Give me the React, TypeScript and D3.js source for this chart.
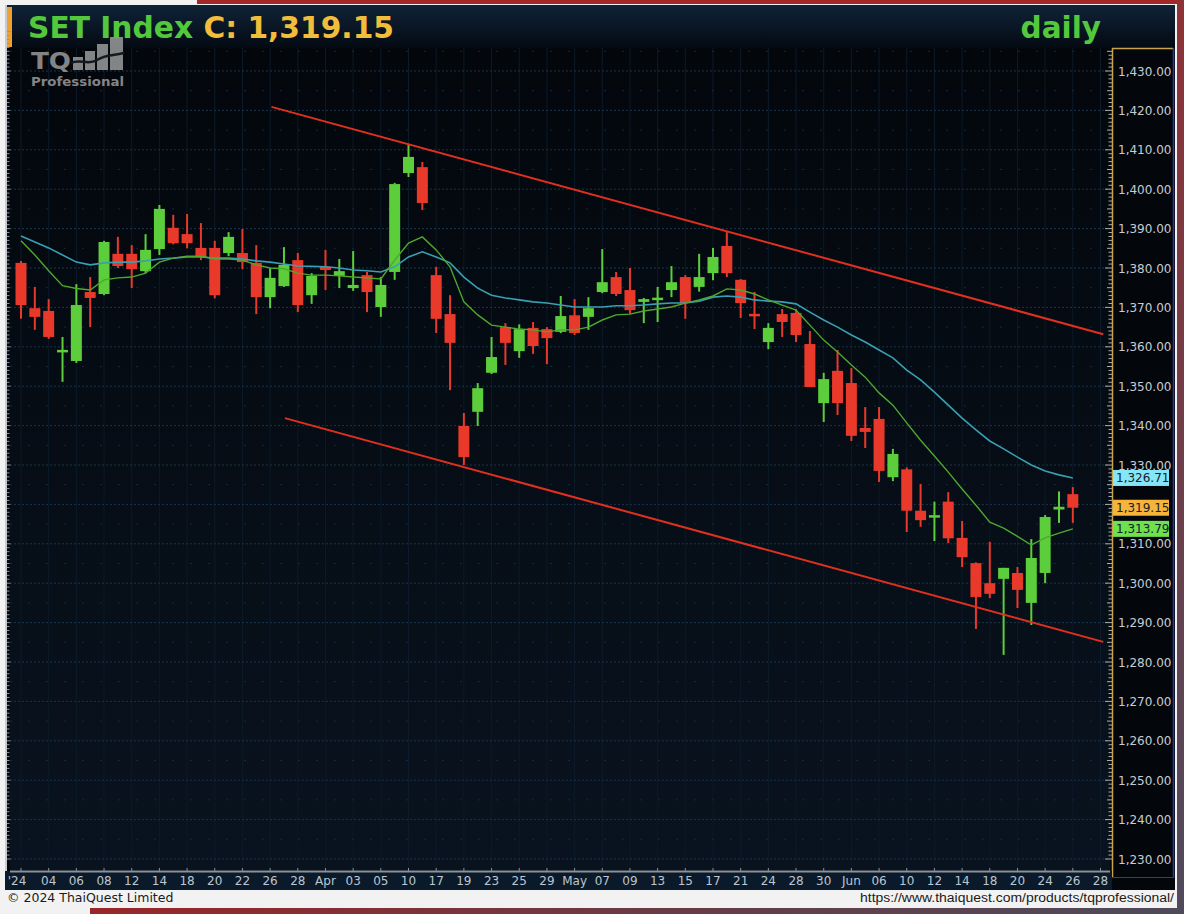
import React from 'react';
import * as d3 from 'd3';

const W = 1184;
const H = 914;

// trading days shown on the time axis (last two are future slots)
const tradingDates = [
  '2024-02-29','2024-03-01','2024-03-04','2024-03-05','2024-03-06','2024-03-07','2024-03-08','2024-03-11','2024-03-12','2024-03-13',
  '2024-03-14','2024-03-15','2024-03-18','2024-03-19','2024-03-20','2024-03-21','2024-03-22','2024-03-25','2024-03-26','2024-03-27',
  '2024-03-28','2024-03-29','2024-04-01','2024-04-02','2024-04-03','2024-04-04','2024-04-05','2024-04-09','2024-04-10','2024-04-11',
  '2024-04-17','2024-04-18','2024-04-19','2024-04-22','2024-04-23','2024-04-24','2024-04-25','2024-04-26','2024-04-29','2024-04-30',
  '2024-05-02','2024-05-03','2024-05-07','2024-05-08','2024-05-09','2024-05-10','2024-05-13','2024-05-14','2024-05-15','2024-05-16',
  '2024-05-17','2024-05-20','2024-05-21','2024-05-23','2024-05-24','2024-05-27','2024-05-28','2024-05-29','2024-05-30','2024-05-31',
  '2024-06-04','2024-06-05','2024-06-06','2024-06-07','2024-06-10','2024-06-11','2024-06-12','2024-06-13','2024-06-14','2024-06-17',
  '2024-06-18','2024-06-19','2024-06-20','2024-06-21','2024-06-24','2024-06-25','2024-06-26','2024-06-27','2024-06-28'
];

// axis labels, one every second trading day
const dateLabels = ["'24","04","06","08","12","14","18","20","22","26","28","Apr","03","05","10","17","19","23","25","29","May","07","09","13","15","17","21","24","28","30","Jun","06","10","12","14","18","20","24","26","28"];

const opens = [1381.3,1369.8,1369.1,1358.7,1356.4,1373.9,1373.4,1383.6,1383.6,1379.2,1384.8,1390.2,1388.6,1385.1,1385.1,1383.8,1383.8,1381.3,1372.6,1375.4,
  1382.0,1373.1,1380.3,1378.0,1374.9,1378.2,1370.1,1379.0,1404.1,1405.6,1378.2,1368.3,1339.9,1343.5,1353.4,1365.0,1358.9,1364.8,1364.5,1363.8,
  1368.0,1367.6,1373.9,1377.7,1374.4,1371.4,1371.9,1374.4,1377.7,1375.2,1378.7,1385.6,1377.0,1368.3,1361.2,1368.3,1368.6,1360.7,1345.7,1353.9,
  1350.8,1339.4,1341.7,1326.9,1328.9,1318.4,1316.7,1320.7,1311.5,1305.1,1300.0,1301.1,1302.6,1295.0,1302.6,1318.7,1322.6];
const highs = [1381.8,1375.2,1372.1,1362.5,1375.9,1377.7,1386.9,1387.9,1385.8,1388.6,1396.0,1393.5,1393.7,1391.4,1386.9,1389.1,1389.9,1385.8,1380.0,1385.3,
  1383.8,1378.7,1384.6,1382.3,1384.3,1379.0,1377.7,1401.6,1411.5,1406.9,1380.3,1373.1,1343.2,1350.8,1362.5,1366.0,1365.7,1366.3,1365.0,1372.9,
  1372.1,1372.6,1384.8,1379.0,1380.0,1372.4,1375.2,1380.5,1378.2,1383.6,1385.1,1389.1,1377.2,1373.9,1366.0,1369.6,1369.6,1364.0,1353.4,1359.2,
  1354.6,1344.7,1344.7,1334.1,1329.4,1325.2,1320.7,1323.1,1315.8,1305.3,1310.5,1303.9,1304.1,1311.2,1317.3,1323.3,1324.4];
const lows = [1367.1,1364.3,1362.0,1351.1,1355.9,1365.0,1373.1,1380.0,1374.9,1378.7,1383.3,1386.0,1385.0,1382.0,1372.3,1383.0,1379.7,1368.3,1369.8,1375.2,
  1368.8,1370.9,1374.4,1374.9,1374.2,1368.8,1367.6,1377.0,1403.1,1394.7,1363.5,1349.0,1330.0,1339.9,1353.1,1355.4,1357.2,1358.2,1355.6,1363.5,
  1363.0,1364.3,1373.6,1372.9,1368.3,1366.0,1366.3,1372.6,1367.1,1374.0,1376.9,1377.7,1367.3,1364.5,1359.4,1362.5,1361.2,1349.8,1340.9,1342.7,
  1336.1,1334.3,1325.7,1325.9,1313.0,1314.3,1310.7,1310.2,1304.1,1288.4,1296.2,1281.8,1293.7,1289.4,1300.0,1315.3,1315.3];
const closes = [1370.6,1367.6,1362.5,1359.1,1370.6,1372.4,1386.6,1380.5,1379.7,1384.6,1395.0,1386.3,1386.3,1382.8,1373.1,1387.9,1381.5,1372.6,1377.5,1380.8,
  1370.6,1378.0,1379.5,1379.2,1375.7,1373.9,1375.7,1401.3,1408.2,1396.5,1367.1,1361.0,1332.0,1349.5,1357.4,1361.0,1364.5,1360.2,1362.2,1367.8,
  1363.5,1369.8,1376.4,1373.4,1369.3,1372.1,1372.4,1376.4,1371.1,1377.7,1382.8,1378.7,1371.1,1367.8,1364.8,1366.3,1363.0,1349.8,1351.8,1345.7,
  1337.4,1338.4,1328.5,1332.8,1318.4,1316.0,1317.2,1311.4,1306.6,1296.5,1297.3,1303.9,1298.3,1306.4,1316.8,1319.4,1319.15];

// moving averages
const maFast = [1386.9,1383.3,1379.3,1375.5,1374.8,1374.4,1377.0,1377.5,1377.7,1378.7,1381.5,1382.5,1383.0,1383.0,1382.3,1382.3,1382.0,1380.8,1380.0,1379.8,
  1378.7,1378.2,1378.2,1378.0,1377.7,1377.5,1377.2,1382.0,1386.3,1387.9,1384.6,1380.3,1371.4,1368.1,1365.5,1365.0,1364.5,1364.3,1363.8,1364.3,
  1364.3,1365.0,1366.8,1368.1,1368.3,1369.1,1369.6,1370.1,1371.1,1371.9,1372.9,1374.7,1374.4,1373.4,1371.9,1370.6,1369.3,1365.5,1361.7,1358.7,
  1355.4,1352.3,1348.3,1345.2,1340.7,1336.3,1332.3,1328.2,1323.9,1319.8,1315.5,1314.0,1311.9,1309.7,1311.5,1312.7,1313.79];
const maSlow = [1388.1,1386.6,1385.1,1383.3,1381.5,1380.8,1381.3,1381.5,1381.5,1381.8,1382.3,1382.5,1382.8,1382.8,1382.5,1382.5,1382.3,1381.8,1381.5,1381.0,
  1380.5,1380.4,1380.3,1380.0,1379.5,1379.3,1379.0,1380.3,1382.8,1384.1,1382.8,1381.3,1377.7,1374.9,1373.1,1372.4,1371.9,1371.4,1371.1,1370.6,
  1370.1,1370.1,1370.1,1370.4,1370.4,1370.6,1370.9,1371.1,1371.1,1371.6,1372.6,1372.9,1372.6,1371.9,1371.6,1371.4,1370.9,1368.8,1366.8,1365.0,
  1363.0,1361.2,1359.2,1357.2,1354.1,1351.6,1348.5,1345.2,1341.9,1338.9,1336.1,1334.1,1332.0,1330.0,1328.5,1327.5,1326.71];

// trend channel end points: [bar position, price]
const upperChannel: [number, number][] = [[18.1, 1420.9], [78.2, 1363.2]];
const lowerChannel: [number, number][] = [[19.07, 1341.9], [78.2, 1285.1]];

const priceTicks = [1230,1240,1250,1260,1270,1280,1290,1300,1310,1320,1330,1340,1350,1360,1370,1380,1390,1400,1410,1420,1430];

const lastTags = [
  { value: 1326.71, label: '1,326.71', fill: '#84e6f6' },
  { value: 1319.15, label: '1,319.15', fill: '#f6b43a' },
  { value: 1313.79, label: '1,313.79', fill: '#6ee24c' },
];

const PLOT = { left: 10, right: 1110, top: 48, bottom: 870 };

export default function App() {
  const x = d3.scaleLinear().domain([0, tradingDates.length - 1]).range([21, 1100.5]);
  const y = d3.scaleLinear().domain([1230, 1430]).range([859, 71]);
  const fmt = d3.format(',.2f');

  const candles = opens.map((o, i) => ({ i, o, h: highs[i], l: lows[i], c: closes[i] }));
  const line = d3.line<number>().x((_, i) => x(i)).y((d) => y(d));
  const chLine = d3.line<[number, number]>().x((d) => x(d[0])).y((d) => y(d[1]));

  const minorTicks = d3.range(1230, 1441, 1);
  const halfLevels = d3.range(1235, 1440, 10);

  const green = '#5ccd3b';
  const red = '#e8392a';

  // axis labels hidden behind a value tag are clipped at the tag edge
  const tagBand = (v: number) => lastTags.some((t) => Math.abs(y(t.value) - y(v)) < 12);

  return (
    <div style={{ position: 'absolute', left: 0, top: 0, width: W, height: H }}>
      <svg width={W} height={H} style={{ display: 'block' }}>
        <defs>
          <linearGradient id="hdr" x1="0" y1="0" x2="0" y2="1">
            <stop offset="0" stopColor="#0f2338" />
            <stop offset="1" stopColor="#040a12" />
          </linearGradient>
          <linearGradient id="plotbg" x1="0" y1="0" x2="0" y2="1">
            <stop offset="0" stopColor="#03070c" />
            <stop offset="1" stopColor="#09131f" />
          </linearGradient>
          <linearGradient id="rightStrip" x1="0" y1="0" x2="0" y2="1">
            <stop offset="0" stopColor="#8e3236" />
            <stop offset="1" stopColor="#4e4a5c" />
          </linearGradient>
          <linearGradient id="bottomStrip" x1="0" y1="0" x2="1" y2="0">
            <stop offset="0" stopColor="#9a2628" />
            <stop offset="0.5" stopColor="#6a3a44" />
            <stop offset="1" stopColor="#4e4a5c" />
          </linearGradient>
          <clipPath id="plotClip">
            <rect x={PLOT.left} y={PLOT.top} width={PLOT.right - PLOT.left} height={PLOT.bottom - PLOT.top} />
          </clipPath>
        </defs>

        {/* outer frame */}
        <rect x={0} y={0} width={W} height={H} fill="#f2f2f2" />
        <rect x={197} y={0} width={W - 197} height={4} fill="#a3282a" />
        <rect x={1177} y={0} width={7} height={H} fill="url(#rightStrip)" />
        <rect x={90} y={908} width={W - 90} height={6} fill="url(#bottomStrip)" />

        {/* dark panel */}
        <rect x={5} y={5} width={1170} height={885} fill="#03070c" />
        <rect x={5} y={5} width={1170} height={43} fill="url(#hdr)" />
        <rect x={PLOT.left} y={PLOT.top} width={PLOT.right - PLOT.left} height={PLOT.bottom - PLOT.top} fill="url(#plotbg)" />

        {/* left ruler */}
        <rect x={5} y={5} width={2} height={885} fill="#c8ccd0" />
        <rect x={7} y={7} width={5} height={40} fill="#f0a030" />
        {minorTicks.map((v) => (
          <line key={'lt' + v} x1={7} x2={v % 10 === 0 ? 11 : 9.5} y1={y(v)} y2={y(v)} stroke="#8a96a4" strokeWidth={1} />
        ))}

        {/* grid */}
        <g clipPath="url(#plotClip)">
          {dateLabels.map((lab, k) => (
            <line key={'vg' + k} x1={x(2 * k)} x2={x(2 * k)} y1={PLOT.top} y2={PLOT.bottom} stroke="#0c1a29" strokeWidth={1} />
          ))}
          {priceTicks.map((v) => (
            <line key={'hg' + v} x1={PLOT.left} x2={PLOT.right} y1={y(v)} y2={y(v)} stroke="#1b344c" strokeWidth={1} strokeDasharray="2,2" />
          ))}
          {halfLevels.map((v) => (
            <line key={'hh' + v} x1={PLOT.left} x2={PLOT.right} y1={y(v)} y2={y(v)} stroke="#15293d" strokeWidth={1} strokeDasharray="2,16" />
          ))}
        </g>

        {/* logo */}
        <g opacity={0.8} fill="#a4a4a4">
          <text x={31} y={69} fontFamily="DejaVu Sans" fontWeight="bold" fontSize={23} textLength={40} lengthAdjust="spacingAndGlyphs">TQ</text>
          <rect x={73} y={57} width={10} height={13} />
          <rect x={85} y={51} width={10} height={19} />
          <rect x={97} y={44} width={11} height={26} />
          <rect x={110} y={37} width={13} height={33} />
          <path d="M71,63 C80,58 88,66 97,60 S112,56 124,53" stroke="#1a1e24" strokeWidth={2.5} fill="none" />
          <text x={31} y={86} fontFamily="DejaVu Sans" fontWeight="bold" fontSize={12.5} textLength={93} lengthAdjust="spacingAndGlyphs">Professional</text>
        </g>

        {/* candles */}
        <g clipPath="url(#plotClip)">
          {candles.map((d) => {
            const up = d.c >= d.o;
            const col = up ? green : red;
            const top = y(Math.max(d.o, d.c));
            const bot = y(Math.min(d.o, d.c));
            const hgt = Math.max(2.5, bot - top);
            const cx = x(d.i);
            return (
              <g key={'c' + d.i}>
                <line x1={cx} x2={cx} y1={y(d.h)} y2={y(d.l)} stroke={col} strokeWidth={2} />
                <rect x={cx - 5.5} y={hgt === 2.5 ? (top + bot) / 2 - 1.25 : top} width={11} height={hgt} fill={col} />
              </g>
            );
          })}

          {/* moving averages */}
          <path d={line(maSlow) || ''} fill="none" stroke="#3a9fb2" strokeWidth={1.6} />
          <path d={line(maFast) || ''} fill="none" stroke="#4ea82e" strokeWidth={1.4} />

          {/* channel */}
          <path d={chLine(upperChannel) || ''} stroke="#e2301f" strokeWidth={2} fill="none" />
          <path d={chLine(lowerChannel) || ''} stroke="#e2301f" strokeWidth={2} fill="none" />
        </g>

        {/* right axis */}
        <rect x={1112} y={48} width={61} height={829} fill="#03070c" />
        <line x1={1112.5} x2={1112.5} y1={48} y2={877} stroke="#c8a44a" strokeWidth={1.5} />
        <line x1={1112} x2={1173} y1={48.5} y2={48.5} stroke="#c8a44a" strokeWidth={1.5} />
        <line x1={1173.5} x2={1173.5} y1={48} y2={877} stroke="#2a38a8" strokeWidth={1.5} />
        <line x1={1112} x2={1174} y1={877.5} y2={877.5} stroke="#2a38a8" strokeWidth={1} />
        {minorTicks.filter((v) => y(v) > 50).map((v) => (
          <line key={'rt' + v} x1={v % 10 === 0 ? 1105 : v % 5 === 0 ? 1107 : 1108.5} x2={1112} y1={y(v)} y2={y(v)} stroke="#a8b0b8" strokeWidth={1} />
        ))}
        {priceTicks.filter((v) => !tagBand(v)).map((v) => (
          <text key={'pl' + v} x={1118} y={y(v) + 4.5} fill="#c6ccd4" fontFamily="DejaVu Sans" fontSize={12}>{fmt(v)}</text>
        ))}
        {lastTags.map((t) => (
          <g key={t.label}>
            <rect x={1113} y={y(t.value) - 8} width={56} height={16} fill={t.fill} />
            <text x={1116} y={y(t.value) + 4.5} fill="#14202c" fontFamily="DejaVu Sans" fontSize={12}>{t.label}</text>
          </g>
        ))}

        {/* time axis */}
        <rect x={5} y={871} width={1107} height={19} fill="#0b1a2a" />
        <line x1={10} x2={1110} y1={871.5} y2={871.5} stroke="#8a939c" strokeWidth={2} />
        {dateLabels.map((lab, k) => (
          <g key={'xl' + k}>
            <line x1={x(2 * k)} x2={x(2 * k)} y1={868} y2={871} stroke="#8a939c" strokeWidth={1} />
            <text x={x(2 * k) - (k === 0 ? 4 : 0)} y={885} textAnchor="middle" fill="#bcc6d0" fontFamily="DejaVu Sans" fontSize={12}>{lab}</text>
          </g>
        ))}

        {/* title */}
        <text x={28} y={38} fontFamily="DejaVu Sans" fontWeight="bold" fontSize={29.5} textLength={366} lengthAdjust="spacingAndGlyphs">
          <tspan fill="#54c83c">SET Index </tspan>
          <tspan fill="#f2bd3a">C: 1,319.15</tspan>
        </text>
        <text x={1101} y={38} textAnchor="end" fontFamily="DejaVu Sans" fontWeight="bold" fontSize={29.5} fill="#54c83c">daily</text>

        {/* footer */}
        <text x={7} y={902} fontFamily="DejaVu Sans" fontSize={12.5} fill="#1a1a1a">© 2024 ThaiQuest Limited</text>
        <text x={1174} y={902} textAnchor="end" fontFamily="Liberation Sans" fontSize={12} fill="#1a1a1a" textLength={314} lengthAdjust="spacingAndGlyphs">https://www.thaiquest.com/products/tqprofessional/</text>
      </svg>
    </div>
  );
}
